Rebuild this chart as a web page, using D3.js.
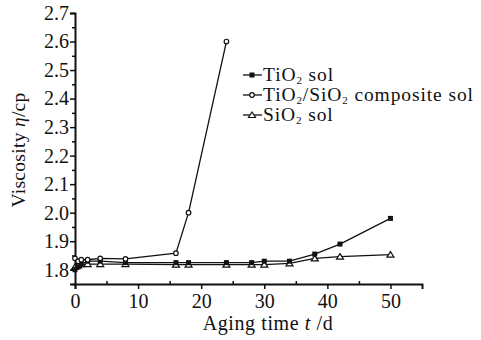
<!DOCTYPE html>
<html>
<head>
<meta charset="utf-8">
<script src="https://cdn.jsdelivr.net/npm/d3@7"></script>
<style>
  body { margin: 0; background: #fff; }
  svg text { font-family: "Liberation Serif", "DejaVu Serif", serif; fill: #111; }
</style>
</head>
<body>
<div id="chart"></div>
<script>
// aging time (days) and viscosity readings
const tio2Days = [0, 0.5, 1, 2, 4, 8, 16, 18, 24, 28, 30, 34, 38, 42, 50];
const tio2Vals = [1.80, 1.81, 1.82, 1.83, 1.83, 1.825, 1.825, 1.825, 1.825, 1.825, 1.83, 1.83, 1.855, 1.89, 1.98];

const compDays = [0, 0.5, 1, 2, 4, 8, 16, 18, 24];
const compVals = [1.84, 1.83, 1.835, 1.835, 1.84, 1.838, 1.858, 2.0, 2.6];

const sio2Days = [0, 0.5, 1, 2, 4, 8, 16, 18, 24, 28, 30, 34, 38, 42, 50];
const sio2Vals = [1.81, 1.815, 1.82, 1.82, 1.82, 1.82, 1.818, 1.818, 1.818, 1.818, 1.818, 1.822, 1.84, 1.846, 1.853];

const xTicks = [0, 10, 20, 30, 40, 50];
const yTicks = [1.8, 1.9, 2.0, 2.1, 2.2, 2.3, 2.4, 2.5, 2.6, 2.7];

const width = 481, height = 340;
const margin = { top: 13, right: 59, bottom: 56, left: 75 };

const svg = d3.select('#chart').append('svg')
  .attr('width', width)
  .attr('height', height);

const x = d3.scaleLinear().domain([0, 55]).range([margin.left, width - margin.right]);
const y = d3.scaleLinear().domain([1.75, 2.7]).range([height - margin.bottom, margin.top]);

// axes
svg.append('g')
  .attr('transform', `translate(0,${height - margin.bottom})`)
  .call(d3.axisBottom(x).tickValues(xTicks).tickSize(5).tickPadding(5).tickFormat(d3.format('d')));

svg.append('g')
  .attr('transform', `translate(0,${height - margin.bottom})`)
  .call(d3.axisBottom(x).tickValues([5, 15, 25, 35, 45]).tickSize(-3).tickFormat(''))
  .call(g => g.select('.domain').remove());

svg.append('g')
  .attr('transform', `translate(${margin.left},0)`)
  .call(d3.axisLeft(y).tickValues(yTicks).tickSize(5).tickPadding(1).tickFormat(d3.format('.1f')));

svg.append('g')
  .attr('transform', `translate(${margin.left},0)`)
  .call(d3.axisLeft(y).tickValues(d3.range(1.75, 2.7, 0.1)).tickSize(3).tickFormat(''))
  .call(g => g.select('.domain').remove());

svg.selectAll('.domain').attr('stroke', '#111').attr('stroke-width', 2);
svg.selectAll('.tick line').attr('stroke', '#111').attr('stroke-width', 1.5);
svg.selectAll('.tick text').attr('font-size', 20).style('font-family', '"Liberation Serif", serif').attr('fill', '#111');

// axis titles
const xt = svg.append('text')
  .attr('x', 268).attr('y', 330)
  .attr('text-anchor', 'middle')
  .attr('font-size', 20)
  .attr('letter-spacing', 0.6);
xt.append('tspan').text('Aging time ');
xt.append('tspan').attr('font-style', 'italic').text('t');
xt.append('tspan').text(' /d');

const yt = svg.append('text')
  .attr('transform', `translate(25,${y(2.22)}) rotate(-90)`)
  .attr('text-anchor', 'middle')
  .attr('font-size', 19.5)
  .attr('letter-spacing', 0.3);
yt.append('tspan').text('Viscosity ');
yt.append('tspan').attr('font-style', 'italic').text('η');
yt.append('tspan').text('/cp');

// series
const line = d3.line().x(d => x(d[0])).y(d => y(d[1]));

function drawMarker(g, type, cx, cy) {
  if (type === 'square') {
    g.append('rect').attr('x', cx - 2.5).attr('y', cy - 2.5).attr('width', 5).attr('height', 5).attr('fill', '#111');
  } else if (type === 'circle') {
    g.append('circle').attr('cx', cx).attr('cy', cy).attr('r', 2.3).attr('fill', '#fff').attr('stroke', '#111').attr('stroke-width', 1.2);
  } else {
    g.append('path')
      .attr('d', `M${cx},${cy - 3}L${cx + 3.5},${cy + 2.5}L${cx - 3.5},${cy + 2.5}Z`)
      .attr('fill', '#fff').attr('stroke', '#111').attr('stroke-width', 1.2);
  }
}

const series = [
  { days: sio2Days, vals: sio2Vals, marker: 'triangle' },
  { days: tio2Days, vals: tio2Vals, marker: 'square' },
  { days: compDays, vals: compVals, marker: 'circle' },
];

series.forEach(s => {
  const pts = s.days.map((d, i) => [d, s.vals[i]]);
  const g = svg.append('g');
  g.append('path')
    .attr('d', line(pts))
    .attr('fill', 'none')
    .attr('stroke', '#111')
    .attr('stroke-width', 1.3);
  pts.forEach(p => drawMarker(g, s.marker, x(p[0]), y(p[1])));
});

// legend
const legendItems = [
  { marker: 'square', label: ['TiO', '2', ' sol'] },
  { marker: 'circle', label: ['TiO', '2', '/SiO', '2', ' composite sol'] },
  { marker: 'triangle', label: ['SiO', '2', ' sol'] },
];

legendItems.forEach((item, i) => {
  const ly = 75 + i * 20;
  const g = svg.append('g');
  g.append('line').attr('x1', 243).attr('x2', 262).attr('y1', ly).attr('y2', ly)
    .attr('stroke', '#111').attr('stroke-width', 1.3);
  drawMarker(g, item.marker, 252, ly);
  const t = g.append('text').attr('x', 263).attr('y', ly + 6)
    .attr('font-size', 19.5).attr('letter-spacing', 0.9);
  item.label.forEach((part, j) => {
    if (j % 2 === 1) {
      t.append('tspan').attr('font-size', 11).attr('dy', 3).text(part);
    } else {
      t.append('tspan').attr('dy', j === 0 ? 0 : -3).text(part);
    }
  });
});
</script>
</body>
</html>
